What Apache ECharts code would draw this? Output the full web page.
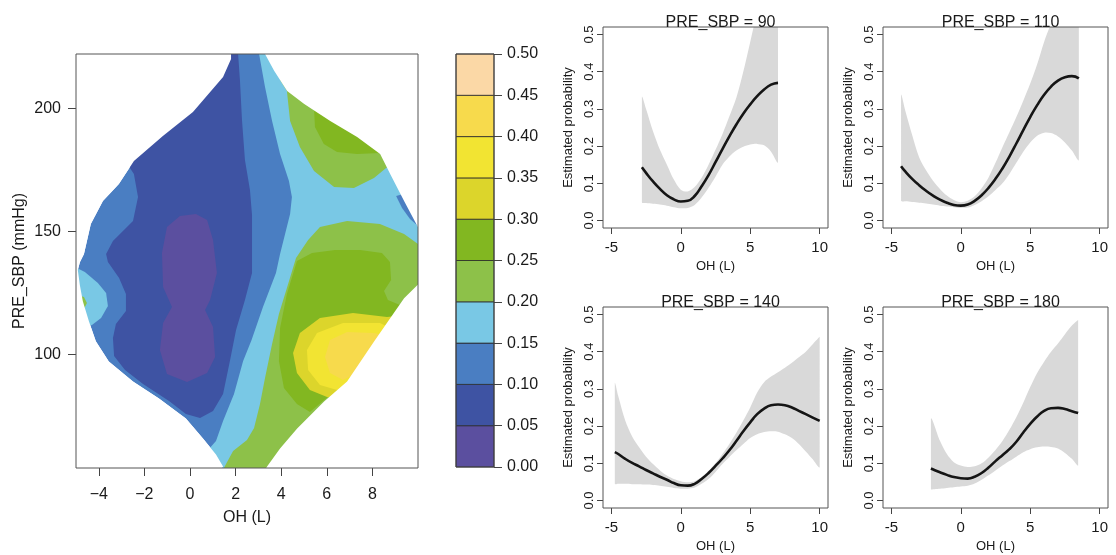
<!DOCTYPE html>
<html><head><meta charset="utf-8">
<script src="https://cdn.jsdelivr.net/npm/echarts@6/dist/echarts.min.js"></script>
<style>html,body{margin:0;padding:0;background:#fff}#c{width:1116px;height:555px}</style>
</head><body><div id="c"></div>
<script>
const FONT = "'Liberation Sans', Arial, Helvetica, sans-serif";
const TXT = '#1a1a1a';

// ---- colour levels (legend) ----
const levelBreaks = [0, 0.05, 0.10, 0.15, 0.20, 0.25, 0.30, 0.35, 0.40, 0.45, 0.50];
const levelColors = ['#5b4f9f', '#3e53a3', '#4a7ec2', '#79c8e5', '#8dc149', '#82b721',
                     '#dcd52b', '#f2e432', '#f7da4c', '#fbd8a6'];

// ---- contour regions, [OH (L), PRE_SBP (mmHg)] ----
const domainOutline = [[1.80,222],[3.29,222],[3.69,215.2],[4.26,207.0],[5.01,201.7],[6.15,194.8],[7.33,188.3],[8.34,181.4],[8.78,173.3],[9.39,162.3],[10,151.7],[10,128.5],[9.39,122.9],[8.78,114.8],[8.08,105.4],[6.89,89.1],[5.88,81.0],[4.70,70.0],[3.95,61.9],[3.38,54.6],[3.34,54],[1.40,54],[1.45,54.6],[1.14,59.5],[0.57,66.0],[-0.18,74.1],[-1.36,82.2],[-2.50,89.1],[-3.56,97.2],[-4.13,105.4],[-4.43,113.5],[-4.70,121.7],[-4.83,128.2],[-4.92,134.3],[-4.83,137.5],[-4.65,140.8],[-4.35,153.0],[-3.82,162.3],[-3.12,169.2],[-2.46,178.6],[-1.19,188.7],[0.13,198.5],[1.45,212.7],[1.80,220.0]];
const regionBelow010 = [[2.11,222],[2.19,211.5],[2.28,195.2],[2.41,179.0],[2.63,166.8],[2.72,156.7],[2.72,144.5],[2.72,133.1],[2.41,122.2],[2.02,110.0],[1.75,97.4],[1.45,84.0],[1.01,77.1],[0.44,74.3],[-0.18,75.9],[-0.92,81.2],[-2.06,88.1],[-2.85,93.8],[-3.33,99.4],[-3.38,106.8],[-3.25,112.4],[-2.81,117.7],[-2.81,124.6],[-3.11,131.1],[-3.60,137.6],[-3.68,140.8],[-3.38,146.1],[-2.50,154.2],[-2.28,164.0],[-2.46,173.3],[-2.72,177.0],[-3.07,183.0],[-1.75,199.3],[0.0,211.5],[1.10,222]];
const regionBelow005 = [[0.26,157.1],[0.75,154.6],[1.01,146.5],[1.18,133.1],[0.88,122.2],[0.66,118.1],[1.01,111.2],[1.10,99.0],[0.75,92.6],[-0.13,88.9],[-1.01,92.1],[-1.32,101.9],[-1.18,112.8],[-0.79,119.3],[-1.18,127.4],[-1.23,141.2],[-1.01,151.8],[-0.44,156.3]];
const regionAbove015 = [[3.03,222],[3.29,208.6],[3.60,194.8],[3.95,181.4],[4.34,170.5],[4.47,164.0],[4.39,157.1],[4.17,149.0],[3.95,140.8],[3.77,133.1],[3.20,119.3],[2.70,105.9],[2.33,97.4],[1.93,84.0],[1.45,73.1],[1.14,65.0],[0.79,61.3],[0.66,54],[10,54],[10,222]];
const regionAbove015Left = [[-4.96,135.2],[-4.61,133.5],[-4.04,129.1],[-3.68,125.0],[-3.60,119.7],[-3.90,114.9],[-4.30,112.0],[-4.96,110.0]];
const regionPatch010Right = [[9.04,164.4],[9.30,159.5],[9.65,155.0],[10,152.2],[10,166.8]];
const regionAbove020Upper = [[3.95,211.5],[4.25,207.0],[4.39,194.8],[4.82,184.3],[5.44,174.5],[6.32,168.0],[7.19,167.6],[8.07,171.7],[8.60,175.7],[9.21,179.0],[9.65,203.3],[4.82,219.6]];
const regionAbove020Lower = [[10,144.9],[9.39,149.0],[8.33,153.0],[6.89,154.2],[5.70,151.8],[5.18,146.5],[4.65,139.2],[4.25,127.0],[3.90,116.5],[3.60,104.3],[3.29,90.5],[3.07,80.0],[2.81,70.2],[2.50,65.4],[1.89,60.9],[1.58,55.6],[1.49,54],[10,54]];
const regionAbove020Left = [[-4.96,124.2],[-4.65,123.4],[-4.52,121.0],[-4.65,118.5],[-4.96,118.1]];
const regionAbove025Upper = [[5.04,203.3],[5.44,200.1],[5.48,192.4],[5.87,185.5],[6.45,182.2],[7.32,181.4],[8.33,181.8],[9.21,195.2],[6.14,207.4]];
const regionAbove025Lower = [[4.69,138.0],[5.35,141.2],[6.36,142.5],[7.46,142.5],[8.42,141.2],[8.77,137.6],[8.82,130.3],[8.51,125.8],[8.68,122.2],[9.21,120.1],[9.21,110.0],[6.14,83.6],[5.26,76.7],[4.69,80.0],[4.12,86.5],[3.90,97.4],[3.95,110.8],[4.25,124.6]];
const regionAbove030 = [[8.64,115.3],[7.15,116.9],[5.70,114.9],[4.82,108.8],[4.52,100.7],[4.69,92.6],[5.26,85.7],[6.01,82.8],[6.80,81.6],[8.77,101.9],[9.43,116.1]];
const regionAbove035 = [[8.33,112.8],[6.71,112.8],[5.57,108.8],[5.13,101.9],[5.18,93.8],[5.70,87.7],[6.45,85.7],[7.24,83.6],[8.99,110.0]];
const regionAbove040 = [[8.03,108.8],[6.89,109.2],[6.14,105.9],[5.92,99.0],[6.14,92.6],[6.71,89.7],[7.15,91.7],[7.89,93.8],[8.55,108.0]];

const OH_MIN = -5, OH_MAX = 10, SBP_MIN = 54, SBP_MAX = 222;
const ohTicks = [-4, -2, 0, 2, 4, 6, 8];
const sbpTicks = [100, 150, 200];

// ---- conditional curves ----
const panelTitles = ['PRE_SBP = 90', 'PRE_SBP = 110', 'PRE_SBP = 140', 'PRE_SBP = 180'];
const oh90  = [-2.8,-2.5,-2,-1.5,-1,-0.5,0,0.5,1,1.5,2,2.5,3,3.5,4,4.5,5,5.5,6,6.5,7];
const est90 = [0.143,0.128,0.105,0.085,0.068,0.057,0.051,0.053,0.066,0.092,0.122,0.157,0.192,0.226,0.258,0.287,0.312,0.334,0.352,0.365,0.370];
const lo90  = [0.049,0.047,0.045,0.043,0.040,0.036,0.033,0.034,0.042,0.062,0.088,0.118,0.150,0.172,0.188,0.198,0.204,0.206,0.202,0.185,0.157];
const hi90  = [0.332,0.300,0.240,0.190,0.150,0.110,0.083,0.078,0.090,0.115,0.150,0.190,0.232,0.280,0.330,0.400,0.480,0.560,0.620,0.660,0.700];

const oh110  = [-4.3,-4,-3.5,-3,-2.5,-2,-1.5,-1,-0.5,0,0.5,1,1.5,2,2.5,3,3.5,4,4.5,5,5.5,6,6.5,7,7.5,8,8.5];
const est110 = [0.146,0.132,0.112,0.095,0.080,0.067,0.056,0.048,0.042,0.040,0.043,0.053,0.068,0.088,0.112,0.140,0.172,0.207,0.243,0.278,0.310,0.338,0.360,0.376,0.385,0.388,0.382];
const lo110  = [0.053,0.052,0.050,0.048,0.046,0.043,0.040,0.038,0.036,0.034,0.035,0.042,0.052,0.065,0.082,0.100,0.125,0.155,0.185,0.210,0.228,0.236,0.235,0.226,0.210,0.188,0.163];
const hi110  = [0.337,0.296,0.230,0.170,0.135,0.107,0.085,0.067,0.055,0.049,0.053,0.065,0.087,0.116,0.155,0.197,0.237,0.278,0.322,0.368,0.420,0.480,0.530,0.580,0.620,0.660,0.700];

const oh140  = [-4.75,-4.5,-4,-3.5,-3,-2.5,-2,-1.5,-1,-0.5,0,0.5,1,1.5,2,2.5,3,3.5,4,4.5,5,5.5,6,6.5,7,7.5,8,8.5,9,9.5,10];
const est140 = [0.130,0.125,0.112,0.101,0.092,0.082,0.073,0.064,0.056,0.047,0.041,0.040,0.045,0.058,0.074,0.093,0.113,0.135,0.160,0.186,0.210,0.232,0.247,0.256,0.258,0.256,0.250,0.241,0.232,0.223,0.214];
const lo140  = [0.045,0.045,0.045,0.044,0.044,0.043,0.042,0.040,0.037,0.034,0.032,0.032,0.035,0.045,0.058,0.077,0.098,0.117,0.135,0.152,0.168,0.178,0.184,0.186,0.185,0.178,0.168,0.152,0.132,0.111,0.090];
const hi140  = [0.315,0.280,0.215,0.172,0.143,0.118,0.098,0.081,0.067,0.058,0.052,0.049,0.052,0.063,0.080,0.100,0.125,0.152,0.182,0.215,0.250,0.290,0.318,0.333,0.345,0.357,0.370,0.385,0.400,0.420,0.440];

const oh180  = [-2.15,-1.5,-1,-0.5,0,0.5,1,1.5,2,2.5,3,3.5,4,4.5,5,5.5,6,6.5,7,7.5,8,8.45];
const est180 = [0.086,0.076,0.069,0.063,0.060,0.059,0.064,0.074,0.089,0.106,0.122,0.138,0.158,0.183,0.206,0.226,0.241,0.248,0.249,0.246,0.240,0.235];
const lo180  = [0.030,0.032,0.034,0.036,0.038,0.040,0.046,0.056,0.068,0.081,0.094,0.106,0.118,0.130,0.138,0.143,0.145,0.144,0.140,0.128,0.112,0.095];
const hi180  = [0.220,0.161,0.125,0.103,0.094,0.090,0.092,0.100,0.116,0.136,0.160,0.190,0.224,0.263,0.305,0.343,0.373,0.400,0.422,0.447,0.470,0.485];

const panelX = [-5, 0, 5, 10];
const probTicks = [0, 0.1, 0.2, 0.3, 0.4, 0.5];

// ---------------------------------------------------------------
const chart = echarts.init(document.getElementById('c'), null, {renderer: 'canvas'});

// mask = box minus domain (box clockwise, domain counter-clockwise)
const boxLoop = [[OH_MIN,SBP_MAX],[OH_MAX,SBP_MAX],[OH_MAX,SBP_MIN],[OH_MIN,SBP_MIN],[OH_MIN,SBP_MAX]];
const domRev = domainOutline.slice().reverse();
const maskPts = boxLoop.concat([domainOutline[0]], domRev, [domainOutline[0]], [[OH_MIN,SBP_MAX]]);

const regions = [
  {pts: domainOutline, color: levelColors[2]},
  {pts: regionBelow010, color: levelColors[1]},
  {pts: regionBelow005, color: levelColors[0]},
  {pts: regionAbove015, color: levelColors[3]},
  {pts: regionAbove015Left, color: levelColors[3]},
  {pts: regionPatch010Right, color: levelColors[2]},
  {pts: regionAbove020Upper, color: levelColors[4]},
  {pts: regionAbove020Lower, color: levelColors[4]},
  {pts: regionAbove020Left, color: levelColors[4]},
  {pts: regionAbove025Upper, color: levelColors[5]},
  {pts: regionAbove025Lower, color: levelColors[5]},
  {pts: regionAbove030, color: levelColors[6]},
  {pts: regionAbove035, color: levelColors[7]},
  {pts: regionAbove040, color: levelColors[8]},
  {pts: maskPts, color: '#ffffff'}
];

const panels = [
  {oh: oh90, est: est90, lo: lo90, hi: hi90},
  {oh: oh110, est: est110, lo: lo110, hi: hi110},
  {oh: oh140, est: est140, lo: lo140, hi: hi140},
  {oh: oh180, est: est180, lo: lo180, hi: hi180}
];
const panelBoxes = [
  {left: 603, top: 27}, {left: 883, top: 27},
  {left: 603, top: 307}, {left: 883, top: 307}
];
const PW = 225, PH = 201;

const minus = v => (v < 0 ? '\u2212' + Math.abs(v) : String(v));
const txt = (size) => ({fontSize: size, color: TXT, fontFamily: FONT});

const grids = [
  {left: 76, top: 54, width: 342, height: 414, show: true, borderColor: '#555', borderWidth: 1, backgroundColor: 'transparent', z: 5},
  {left: 456, top: 54, width: 38, height: 413, show: true, borderColor: '#444', borderWidth: 1, backgroundColor: 'transparent', z: 5}
];
panelBoxes.forEach(b => grids.push({left: b.left, top: b.top, width: PW, height: PH, show: true, borderColor: '#555', borderWidth: 1, backgroundColor: 'transparent', z: 5}));

const xAxes = [
  {gridIndex: 0, type: 'value', min: OH_MIN, max: OH_MAX,
   axisLine: {show: false, onZero: false}, splitLine: {show: false},
   axisTick: {show: true, length: 8, customValues: ohTicks, lineStyle: {color: '#444'}},
   axisLabel: {customValues: ohTicks, formatter: minus, margin: 19, ...txt(16)},
   name: 'OH (L)', nameLocation: 'middle', nameGap: 42, nameTextStyle: txt(16)},
  {gridIndex: 1, type: 'value', min: 0, max: 1, show: false}
];
const yAxes = [
  {gridIndex: 0, type: 'value', min: SBP_MIN, max: SBP_MAX,
   axisLine: {show: false, onZero: false}, splitLine: {show: false},
   axisTick: {show: true, length: 8, customValues: sbpTicks, lineStyle: {color: '#444'}},
   axisLabel: {customValues: sbpTicks, margin: 15, ...txt(16)},
   name: 'PRE_SBP (mmHg)', nameLocation: 'middle', nameGap: 48, nameTextStyle: txt(16)},
  {gridIndex: 1, type: 'value', position: 'right', min: 0, max: 0.5, interval: 0.05,
   axisLine: {show: false, onZero: false}, splitLine: {show: false},
   axisTick: {show: true, length: 8, lineStyle: {color: '#444'}},
   axisLabel: {formatter: v => v.toFixed(2), margin: 13, ...txt(16)}}
];
panelBoxes.forEach((b, i) => {
  xAxes.push({gridIndex: i + 2, type: 'value', min: -5.6, max: 10.6,
    axisLine: {show: false, onZero: false}, splitLine: {show: false},
    axisTick: {show: true, length: 6, customValues: panelX, lineStyle: {color: '#444'}},
    axisLabel: {customValues: panelX, formatter: v => (v < 0 ? '-' + Math.abs(v) : String(v)), margin: 12, ...txt(15)},
    name: 'OH (L)', nameLocation: 'middle', nameGap: 32, nameTextStyle: txt(13)});
  yAxes.push({gridIndex: i + 2, type: 'value', min: -0.02, max: 0.52,
    axisLine: {show: false, onZero: false}, splitLine: {show: false},
    axisTick: {show: true, length: 6, customValues: probTicks, lineStyle: {color: '#444'}},
    axisLabel: {customValues: probTicks, formatter: v => v.toFixed(1), rotate: 90, margin: 7, ...txt(13)},
    name: 'Estimated probability', nameLocation: 'middle', nameGap: 28, nameTextStyle: txt(13)});
});

const series = [
  {type: 'custom', xAxisIndex: 0, yAxisIndex: 0, clip: true, silent: true,
   data: regions.map(() => [0, 100]),
   renderItem: (params, api) => {
     const r = regions[params.dataIndex];
     return {type: 'polygon', z2: params.dataIndex,
       shape: {points: r.pts.map(p => api.coord(p))},
       style: {fill: r.color, stroke: null}};
   }},
  {type: 'custom', xAxisIndex: 1, yAxisIndex: 1, silent: true,
   data: levelColors.map((c, i) => [levelBreaks[i], levelBreaks[i + 1]]),
   renderItem: (params, api) => {
     const lo = api.value(0), hi = api.value(1);
     const p1 = api.coord([0, hi]), p2 = api.coord([1, lo]);
     return {type: 'rect', shape: {x: p1[0], y: p1[1], width: p2[0] - p1[0], height: p2[1] - p1[1]},
       style: {fill: levelColors[params.dataIndex], stroke: '#2a2a2a', lineWidth: 0.8}};
   }}
];
panels.forEach((p, i) => {
  // confidence band: upper limit forward, lower limit backward
  series.push({type: 'custom', xAxisIndex: i + 2, yAxisIndex: i + 2, clip: true, silent: true, z: 1,
    data: [[p.oh[0], p.lo[0]]],
    renderItem: (params, api) => {
      const up = p.oh.map((x, k) => api.coord([x, p.hi[k]]));
      const dn = p.oh.map((x, k) => api.coord([x, p.lo[k]])).reverse();
      const upper = {type: 'polyline', shape: {points: up, smooth: 0.35}};
      const pts = up.concat(dn);
      return {type: 'polygon',
        shape: {points: pts, smooth: 0.3, smoothConstraint: [pts[0], pts[0]]},
        style: {fill: '#d9d9d9', stroke: null}};
    }});
  series.push({type: 'line', xAxisIndex: i + 2, yAxisIndex: i + 2, smooth: true,
    symbol: 'none', silent: true, z: 3,
    lineStyle: {color: '#151515', width: 2.6},
    data: p.oh.map((x, k) => [x, p.est[k]])});
});

const titles = panelTitles.map((t, i) => ({
  text: t, left: panelBoxes[i].left + PW / 2, top: panelBoxes[i].top - 17, textAlign: 'center',
  textStyle: {fontSize: 16, fontWeight: 'normal', color: TXT, fontFamily: FONT}
}));

chart.setOption({
  animation: false,
  backgroundColor: '#fff',
  title: titles,
  grid: grids,
  xAxis: xAxes,
  yAxis: yAxes,
  series: series
});
</script>
</body></html>
